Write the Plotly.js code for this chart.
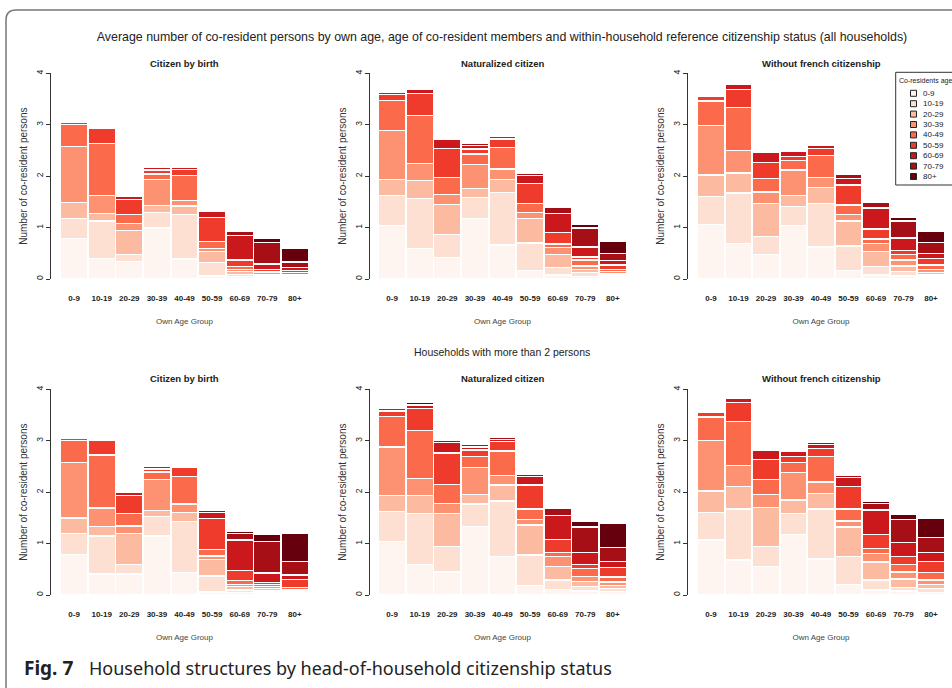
<!DOCTYPE html>
<html><head><meta charset="utf-8">
<script src="https://cdn.plot.ly/plotly-3.0.1.min.js"></script>
<style>html,body{margin:0;padding:0;background:#fff;} #chart{width:952px;height:688px;}</style>
</head><body><div id="chart"></div>
<script>
// ---------- data ----------
const ownAgeGroups = ['0-9','10-19','20-29','30-39','40-49','50-59','60-69','70-79','80+'];
const coresidentGroups = ['0-9','10-19','20-29','30-39','40-49','50-59','60-69','70-79','80+'];
const panelTitles = ['Citizen by birth','Naturalized citizen','Without french citizenship'];

// each row = one own-age bar; columns = co-resident age groups 0-9 ... 80+
// All households
const birthAll = [
  [0.79,0.39,0.31,1.08,0.44,0.04,0.02,0.00,0.00],
  [0.40,0.73,0.15,0.34,1.02,0.29,0.01,0.00,0.00],
  [0.34,0.13,0.47,0.14,0.18,0.29,0.05,0.01,0.00],
  [0.99,0.31,0.13,0.51,0.10,0.08,0.05,0.02,0.00],
  [0.39,0.86,0.17,0.10,0.49,0.12,0.04,0.01,0.00],
  [0.06,0.26,0.22,0.06,0.13,0.47,0.11,0.01,0.00],
  [0.05,0.04,0.05,0.05,0.05,0.13,0.47,0.08,0.00],
  [0.03,0.03,0.03,0.03,0.03,0.03,0.11,0.42,0.08],
  [0.02,0.02,0.02,0.03,0.03,0.04,0.06,0.11,0.26]
];
const naturalizedAll = [
  [1.04,0.58,0.32,0.95,0.58,0.12,0.03,0.01,0.00],
  [0.60,0.97,0.34,0.33,0.94,0.43,0.07,0.03,0.02],
  [0.42,0.45,0.58,0.20,0.33,0.56,0.18,0.01,0.00],
  [1.18,0.41,0.17,0.47,0.20,0.10,0.06,0.04,0.01],
  [0.66,1.02,0.26,0.20,0.42,0.16,0.06,0.03,0.00],
  [0.17,0.53,0.47,0.13,0.17,0.39,0.15,0.04,0.01],
  [0.08,0.15,0.25,0.13,0.07,0.22,0.38,0.11,0.00],
  [0.05,0.07,0.07,0.06,0.12,0.06,0.19,0.37,0.08],
  [0.03,0.03,0.04,0.04,0.05,0.08,0.09,0.14,0.24]
];
const foreignAll = [
  [1.06,0.55,0.41,0.96,0.48,0.10,0.03,0.02,0.00],
  [0.69,0.98,0.39,0.44,0.83,0.36,0.10,0.04,0.01],
  [0.47,0.35,0.65,0.22,0.26,0.32,0.19,0.03,0.00],
  [1.04,0.37,0.22,0.49,0.18,0.08,0.10,0.03,0.00],
  [0.62,0.85,0.31,0.20,0.42,0.14,0.05,0.03,0.02],
  [0.17,0.47,0.49,0.13,0.18,0.39,0.13,0.08,0.02],
  [0.08,0.16,0.29,0.16,0.09,0.19,0.41,0.11,0.00],
  [0.06,0.08,0.11,0.12,0.10,0.09,0.24,0.33,0.06],
  [0.04,0.04,0.05,0.06,0.08,0.13,0.10,0.21,0.22]
];
// Households with more than 2 persons
const birthBig = [
  [0.79,0.40,0.31,1.07,0.44,0.04,0.02,0.00,0.00],
  [0.41,0.74,0.18,0.36,1.03,0.28,0.03,0.02,0.00],
  [0.41,0.19,0.60,0.14,0.25,0.35,0.05,0.02,0.00],
  [1.15,0.37,0.12,0.61,0.14,0.06,0.06,0.02,0.00],
  [0.44,0.99,0.18,0.16,0.53,0.18,0.03,0.02,0.00],
  [0.06,0.31,0.32,0.07,0.13,0.60,0.12,0.03,0.00],
  [0.05,0.05,0.06,0.05,0.07,0.19,0.60,0.13,0.04],
  [0.04,0.04,0.04,0.04,0.04,0.04,0.19,0.61,0.13],
  [0.02,0.02,0.03,0.03,0.05,0.15,0.09,0.26,0.55]
];
const naturalizedBig = [
  [1.04,0.58,0.31,0.95,0.59,0.11,0.04,0.01,0.00],
  [0.60,0.99,0.34,0.34,0.93,0.42,0.06,0.03,0.03],
  [0.45,0.49,0.65,0.19,0.37,0.61,0.20,0.04,0.00],
  [1.33,0.44,0.19,0.52,0.21,0.13,0.06,0.05,0.02],
  [0.75,1.08,0.31,0.19,0.47,0.18,0.05,0.04,0.02],
  [0.18,0.60,0.58,0.11,0.20,0.47,0.16,0.05,0.02],
  [0.11,0.18,0.27,0.19,0.08,0.25,0.47,0.14,0.03],
  [0.08,0.08,0.10,0.10,0.15,0.09,0.22,0.50,0.12],
  [0.07,0.06,0.05,0.07,0.10,0.18,0.12,0.28,0.47]
];
const foreignBig = [
  [1.07,0.54,0.41,0.98,0.46,0.09,0.03,0.02,0.00],
  [0.68,0.99,0.44,0.41,0.85,0.38,0.08,0.03,0.00],
  [0.55,0.40,0.75,0.26,0.29,0.39,0.18,0.03,0.00],
  [1.18,0.41,0.26,0.53,0.20,0.11,0.10,0.03,0.00],
  [0.70,0.97,0.31,0.22,0.49,0.16,0.07,0.04,0.00],
  [0.21,0.54,0.57,0.12,0.23,0.44,0.18,0.04,0.00],
  [0.10,0.19,0.35,0.17,0.10,0.26,0.48,0.13,0.05],
  [0.08,0.06,0.17,0.14,0.15,0.15,0.27,0.45,0.10],
  [0.05,0.08,0.08,0.08,0.15,0.21,0.17,0.30,0.38]
];

// ---------- styling ----------
const reds = ['#FFF5F0','#FEE0D2','#FCBBA1','#FC9272','#FB6A4A','#EF3B2C','#CB181D','#A50F15','#67000D'];
const SANS = 'Liberation Sans, Arial, sans-serif';
const CAP = 'Noto Sans, Open Sans, sans-serif';
const W = 952, H = 688;
const fx = x => x / W, fy = y => 1 - y / H;

const cols = [ {x0:60.3, x1:308.7, ax:50}, {x0:378.3, x1:626.7, ax:369}, {x0:697.3, x1:944.7, ax:687} ];
const rows = [ {top:73.3, bot:279, titleY:64}, {top:389.3, bot:595, titleY:378} ];
const panelData = [[birthAll, naturalizedAll, foreignAll],[birthBig, naturalizedBig, foreignBig]];

const traces = [];
const layout = {
  width: W, height: H, margin:{l:0,r:0,t:0,b:0},
  paper_bgcolor:'#ffffff', plot_bgcolor:'rgba(0,0,0,0)',
  barmode:'stack', bargap:0.02, showlegend:false,
  font:{family:SANS, color:'#222'},
  title:{text:'Average number of co-resident persons by own age, age of co-resident members and within-household reference citizenship status (all households)',
         font:{family:SANS, size:12.4, color:'#222'}, x:fx(502), xanchor:'center', y:fy(37), yanchor:'middle'},
  annotations:[], shapes:[]
};

let n = 0;
rows.forEach((r, ri) => {
  cols.forEach((c, ci) => {
    n++;
    const sfx = n === 1 ? '' : String(n);
    const data = panelData[ri][ci];
    coresidentGroups.forEach((g, gi) => {
      traces.push({
        type:'bar', name:g, x:ownAgeGroups, y:data.map(row => row[gi]),
        xaxis:'x'+sfx, yaxis:'y'+sfx,
        marker:{color:reds[gi], line:{color:'#ffffff', width:1.3}},
        hovertemplate:'%{x}: %{y}<extra>'+g+'</extra>'
      });
    });
    layout['xaxis'+sfx] = {
      domain:[fx(c.x0), fx(c.x1)], anchor:'y'+sfx, type:'category',
      range:[-0.5, 8.5], showline:false, ticks:'', showgrid:false, zeroline:false,
      tickfont:{family:SANS, size:8, color:'#222', weight:'bold'},
      ticklabelstandoff:13,
      title:{text:'Own Age Group', font:{family:SANS, size:8, color:'#444'}, standoff:16},
      fixedrange:true
    };
    layout['yaxis'+sfx] = {
      domain:[fy(r.bot), fy(r.top)], anchor:'free', position:fx(c.ax),
      range:[0,4], tick0:0, dtick:1, showline:true, linecolor:'#333', linewidth:1,
      ticks:'outside', ticklen:4, tickcolor:'#333', tickwidth:1, tickangle:-90,
      tickfont:{family:SANS, size:8.5, color:'#222'}, showgrid:false, zeroline:false,
      title:{text:'Number of co-resident persons', font:{family:SANS, size:10, color:'#333'}, standoff:4},
      fixedrange:true
    };
    layout.annotations.push({
      text:'<b>'+panelTitles[ci]+'</b>', xref:'paper', yref:'paper',
      x:fx((c.x0+c.x1)/2), y:fy(r.titleY), xanchor:'center', yanchor:'middle',
      showarrow:false, font:{family:SANS, size:9.5, color:'#222'}
    });
  });
});

// row subtitle
layout.annotations.push({
  text:'Households with more than 2 persons', xref:'paper', yref:'paper',
  x:fx(502), y:fy(352), xanchor:'center', yanchor:'middle', showarrow:false,
  font:{family:SANS, size:10.5, color:'#222'}
});

// legend (drawn manually)
layout.shapes.push({type:'rect', xref:'paper', yref:'paper',
  x0:fx(895.7), x1:fx(960), y0:fy(185), y1:fy(72.3), line:{color:'#333', width:1}, fillcolor:'rgba(255,255,255,1)'});
layout.annotations.push({text:'Co-residents age', xref:'paper', yref:'paper', x:fx(896.5), y:fy(80.7),
  xanchor:'left', yanchor:'middle', showarrow:false, font:{family:SANS, size:7, color:'#222'}});
coresidentGroups.forEach((g, gi) => {
  const yc = 93.3 + 10.4*gi;
  layout.shapes.push({type:'rect', xref:'paper', yref:'paper',
    x0:fx(910.5), x1:fx(916.5), y0:fy(yc+3), y1:fy(yc-3), line:{color:'#222', width:1}, fillcolor:reds[gi]});
  layout.annotations.push({text:g, xref:'paper', yref:'paper', x:fx(920.5), y:fy(yc),
    xanchor:'left', yanchor:'middle', showarrow:false, font:{family:SANS, size:8, color:'#222'}});
});

// figure frame
layout.shapes.push({type:'path', xref:'paper', yref:'paper', layer:'above',
  path:'M '+fx(6)+' '+fy(700)+' L '+fx(6)+' '+fy(20)+' Q '+fx(6)+' '+fy(10)+' '+fx(16)+' '+fy(10)+' L '+fx(960)+' '+fy(10),
  line:{color:'#777', width:1.5}});

// caption
layout.annotations.push({text:'<b>Fig. 7</b>', xref:'paper', yref:'paper', x:fx(22), y:fy(668),
  xanchor:'left', yanchor:'middle', showarrow:false, font:{family:CAP, size:19, color:'#222'}});
layout.annotations.push({text:'Household structures by head-of-household citizenship status', xref:'paper', yref:'paper', x:fx(87), y:fy(668),
  xanchor:'left', yanchor:'middle', showarrow:false, font:{family:CAP, size:18, color:'#222'}});

Plotly.newPlot('chart', traces, layout, {displayModeBar:false, staticPlot:true});
</script>
</body></html>
